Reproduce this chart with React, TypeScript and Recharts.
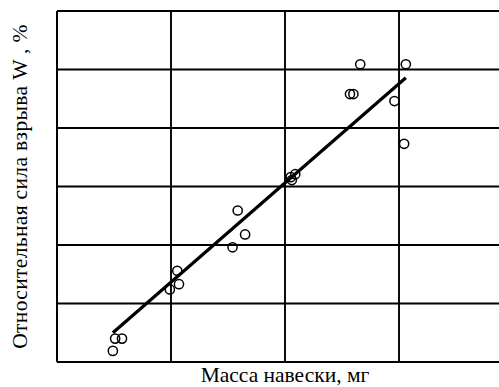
import React from "react";
import {
  ScatterChart,
  Scatter,
  XAxis,
  YAxis,
  CartesianGrid,
} from "recharts";

// масса навески (в делениях сетки) и относительная сила взрыва
const massValues = [
  0.49, 0.51, 0.57, 0.99, 1.07, 1.055, 1.54, 1.65, 1.585, 2.05, 2.09, 2.06,
  2.57, 2.6, 2.66, 3.06, 2.96, 3.045,
];
const powerValues = [
  0.19, 0.4, 0.4, 1.24, 1.33, 1.56, 1.96, 2.18, 2.59, 3.16, 3.21, 3.11, 4.58,
  4.58, 5.09, 5.09, 4.46, 3.73,
];

// линия аппроксимации
const fitX = [0.49, 3.06];
const fitY = [0.5, 4.86];

const xTicks = [0, 1, 2, 3, 4];
const yTicks = [0, 1, 2, 3, 4, 5, 6];

const xLabel = "Масса навески, мг";
const yLabel = "Относительная сила взрыва W , %";

const points = massValues.map((x, i) => ({ x, y: powerValues[i] }));
const fitLine = fitX.map((x, i) => ({ x, y: fitY[i] }));

const font = '"Liberation Serif", "Times New Roman", serif';

const Ring = (props: any) => (
  <circle
    cx={props.cx}
    cy={props.cy}
    r={4.6}
    fill="none"
    stroke="#000"
    strokeWidth={1.5}
  />
);

const NoTick = () => <g />;

export default function App() {
  return (
    <div
      style={{
        width: 499,
        height: 387,
        padding: "8px 0 0 8px",
        boxSizing: "border-box",
        overflow: "hidden",
      }}
    >
      <style>{"body{margin:0}"}</style>
      <ScatterChart
        width={505}
        height={379}
        margin={{ top: 3, right: 0, bottom: 0, left: 0 }}
      >
        <CartesianGrid stroke="#000" strokeWidth={1.9} />
        <XAxis
          type="number"
          dataKey="x"
          domain={[0, 4]}
          ticks={xTicks}
          tick={NoTick}
          tickLine={false}
          height={25}
          axisLine={{ stroke: "#000", strokeWidth: 1.9 }}
          label={{
            value: xLabel,
            position: "insideBottom",
            offset: 5,
            fontFamily: font,
            fontSize: 21.5,
            fill: "#000",
          }}
        />
        <YAxis
          type="number"
          dataKey="y"
          domain={[0, 6]}
          ticks={yTicks}
          tick={NoTick}
          tickLine={false}
          width={49}
          axisLine={{ stroke: "#000", strokeWidth: 1.9 }}
          label={{
            value: yLabel,
            angle: -90,
            position: "insideLeft",
            offset: 11,
            fontFamily: font,
            fontSize: 21.5,
            letterSpacing: 0.35,
            fill: "#000",
            style: { textAnchor: "middle" },
          }}
        />
        <Scatter
          data={fitLine}
          line={{ stroke: "#000", strokeWidth: 3.2 }}
          shape={() => <g />}
          isAnimationActive={false}
        />
        <Scatter data={points} shape={Ring} isAnimationActive={false} />
      </ScatterChart>
    </div>
  );
}
